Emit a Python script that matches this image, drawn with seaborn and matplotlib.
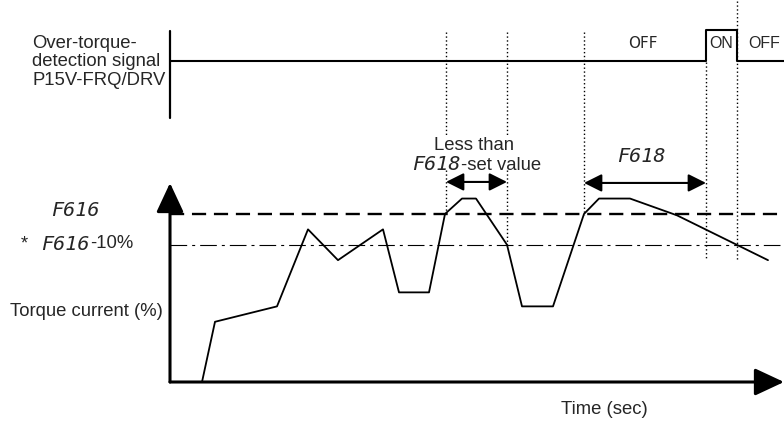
import matplotlib
matplotlib.use("Agg")
import matplotlib.pyplot as plt
import seaborn as sns
import pandas as pd

# ── Data ───────────────────────────────────────────────────────
time_s = [3.2, 4.5, 10.7, 13.8, 16.8, 21.3, 22.9, 25.9, 27.5, 29.2,
          30.6, 33.7, 35.2, 38.3, 41.4, 42.9, 46.0, 50.7, 59.8]
torque_pct = [0, 43, 54, 109, 87, 109, 64, 64, 120, 131,
              131, 98, 54, 54, 120, 131, 131, 119, 87]

f616_level = 120
f616_minus10_level = 98

marker_times = [27.6, 33.7, 41.4, 53.6, 56.7]   # dotted reference lines
sig_time = [0, 53.6, 56.7, 61.4]
sig_state = [0, 1, 0, 0]

T_MAX = 61.4
Y_MAX = 142.1

# ── Layout helpers (figure is 784 x 422 px) ────────────────────
W, H = 784, 422


def fx(x):
    return x / W


def fy(y):
    return 1 - y / H


def ty(ypx):
    # pixel row -> torque units (axis line at row 382, 1.4 px per %)
    return (382 - ypx) / 1.4


def sy(ypx):
    # pixel row -> signal units (low at row 61, high at row 30)
    return (61 - ypx) / 31


sns.set_theme(style="white")
plt.rcParams["font.family"] = ["Liberation Sans", "DejaVu Sans"]

fig = plt.figure(figsize=(W / 100, H / 100), dpi=100)

ax = fig.add_axes([fx(170), fy(382), 614 / W, (382 - 183) / H])
ax_sig = fig.add_axes([fx(170), fy(122), 614 / W, 122 / H])

for a in (ax, ax_sig):
    a.set_xlim(0, T_MAX)
    a.set_xticks([])
    a.set_yticks([])
    a.set_facecolor("none")
    sns.despine(ax=a, left=True, bottom=True)
ax.set_ylim(0, Y_MAX)
ax_sig.set_ylim(sy(122), sy(0))

# ── Torque curve ───────────────────────────────────────────────
df = pd.DataFrame({"t": time_s, "torque": torque_pct})
sns.lineplot(data=df, x="t", y="torque", ax=ax, color="black", lw=1.3,
             sort=False, estimator=None)
ax.set_xlabel("")
ax.set_ylabel("")

# threshold lines
ax.axhline(f616_level, color="black", lw=1.7, dashes=(6, 3.3))
ax.axhline(f616_minus10_level, color="black", lw=0.8, dashes=(15, 4.5, 2.7, 4.5))

# axis arrows
arrow_kw = dict(arrowstyle="-|>,head_length=0.9,head_width=0.42", color="black",
                lw=2.2, shrinkA=0, shrinkB=0, mutation_scale=20)
ax.annotate("", xy=(0, Y_MAX), xytext=(0, 0), arrowprops=arrow_kw,
            annotation_clip=False)
ax.annotate("", xy=(T_MAX, 0), xytext=(0, 0), arrowprops=arrow_kw,
            annotation_clip=False)

# dotted reference lines
dot_kw = dict(color="black", lw=1.0, dashes=(1.0, 1.8), clip_on=False)
t1, t2, t3, t_on, t_off = marker_times
for t, y_end in [(t1, ty(214)), (t2, ty(245))]:
    ax.plot([t, t], [ty(32), ty(135)], **dot_kw)
    ax.plot([t, t], [ty(170), y_end], **dot_kw)
ax.plot([t3, t3], [ty(32), ty(215)], **dot_kw)
ax.plot([t_on, t_on], [ty(62), ty(260)], **dot_kw)
ax.plot([t_off, t_off], [ty(1), ty(260)], **dot_kw)

# dimension arrows
dim_kw = dict(arrowstyle="<|-|>,head_length=0.9,head_width=0.45", color="black",
              lw=1.5, shrinkA=0, shrinkB=0, mutation_scale=12)
ax.annotate("", xy=(t1, ty(182)), xytext=(t2, ty(182)), arrowprops=dim_kw,
            annotation_clip=False)
ax.annotate("", xy=(t3, ty(183)), xytext=(t_on, ty(183)), arrowprops=dim_kw,
            annotation_clip=False)

# ── Over-torque signal ─────────────────────────────────────────
sig = pd.DataFrame({"t": sig_time, "state": sig_state})
sns.lineplot(data=sig, x="t", y="state", ax=ax_sig, color="black", lw=1.5,
             drawstyle="steps-post", sort=False, estimator=None)
ax_sig.set_xlabel("")
ax_sig.set_ylabel("")
ax_sig.plot([0, 0], [sy(31), sy(118)], color="black", lw=1.6, clip_on=False)

# ── Text ───────────────────────────────────────────────────────
seg = dict(family="DejaVu Sans Mono", style="oblique", fontsize=14.5)
txt = dict(fontsize=13.3)

fig.text(fx(32), fy(62), "Over-torque-\ndetection signal\nP15V-FRQ/DRV",
         ha="left", va="center", linespacing=1.15, **txt)
fig.text(fx(643), fy(44), "OFF", ha="center", va="center",
         family="DejaVu Sans", fontsize=11)
fig.text(fx(721), fy(44), "ON", ha="center", va="center", fontsize=11.5)
fig.text(fx(764), fy(44), "OFF", ha="center", va="center", fontsize=11.5)

fig.text(fx(100), fy(211), "F616", ha="right", va="center", **seg)
fig.text(fx(28), fy(244), "*", ha="right", va="center", **txt)
fig.text(fx(90), fy(244), "F616", ha="right", va="center", **seg)
fig.text(fx(90), fy(244), "-10%", ha="left", va="center", **txt)
fig.text(fx(163), fy(311), "Torque current (%)", ha="right", va="center", **txt)

fig.text(fx(474), fy(145), "Less than", ha="center", va="center", **txt)
fig.text(fx(461), fy(165), "F618", ha="right", va="center", **seg)
fig.text(fx(461), fy(165), "-set value", ha="left", va="center", **txt)
fig.text(fx(641), fy(157), "F618", ha="center", va="center", **seg)

fig.text(fx(604), fy(410), "Time (sec)", ha="center", va="center", **txt)

fig.savefig("out.png", dpi=100)
plt.close(fig)
